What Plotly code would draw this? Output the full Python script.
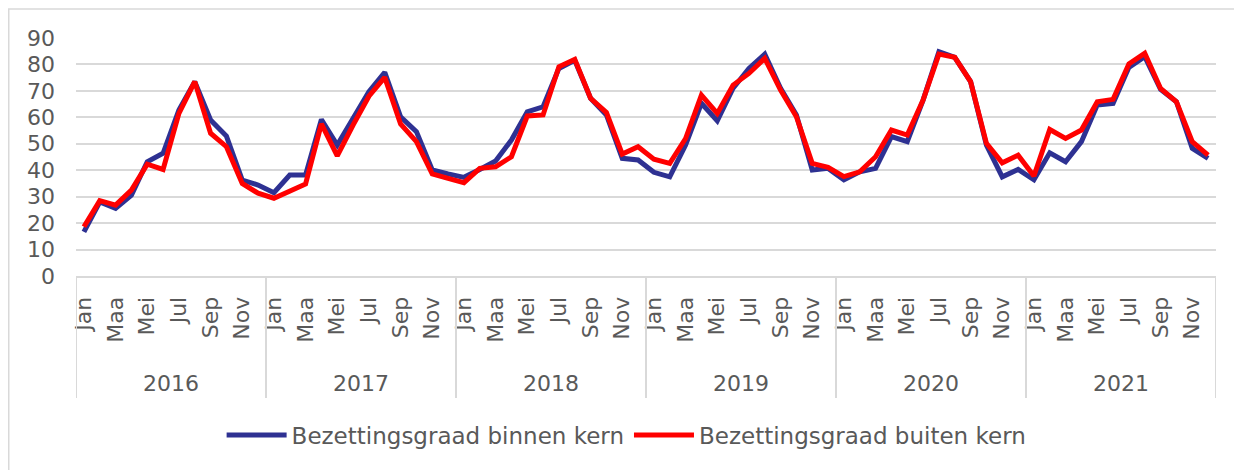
import plotly.graph_objects as go

# ── Data ──────────────────────────────────────────────────────────────────────

years = ["2016", "2017", "2018", "2019", "2020", "2021"]
months = ["Jan", "Feb", "Maa", "Apr", "Mei", "Jun",
          "Jul", "Aug", "Sep", "Okt", "Nov", "Dec"]

binnen_kern = [
    16.7, 28.0, 25.6, 30.6, 43.2, 46.4, 62.8, 73.5, 59.0, 52.9, 36.3, 34.4,
    31.5, 38.2, 38.2, 59.2, 49.5, 59.6, 69.7, 77.0, 60.2, 54.6, 40.1, 38.6,
    37.3, 40.3, 43.5, 51.4, 62.1, 64.0, 78.5, 81.6, 67.2, 60.9, 44.5, 43.9,
    39.2, 37.5, 49.5, 65.3, 58.7, 71.0, 78.5, 83.9, 71.0, 60.9, 40.1, 40.7,
    36.4, 39.4, 40.7, 52.7, 50.8, 66.5, 84.8, 82.7, 73.5, 49.5, 37.5, 40.3,
    36.4, 46.6, 43.2, 50.8, 64.7, 65.3, 78.9, 82.9, 70.6, 65.9, 48.3, 44.5,
]
buiten_kern = [
    18.6, 28.5, 26.8, 32.5, 42.3, 40.3, 61.5, 73.5, 54.0, 48.9, 35.0, 31.3,
    29.4, 31.9, 34.8, 57.5, 45.4, 57.1, 68.0, 75.1, 57.5, 50.8, 38.6, 36.9,
    35.3, 40.7, 41.3, 45.1, 60.5, 60.9, 79.1, 81.9, 67.2, 61.8, 46.1, 48.9,
    44.2, 42.6, 52.0, 68.4, 61.5, 72.2, 76.6, 82.3, 70.3, 60.2, 42.6, 41.1,
    37.6, 39.4, 45.1, 55.2, 53.3, 66.5, 83.9, 82.7, 73.5, 50.2, 42.8, 45.7,
    37.8, 55.4, 52.0, 55.2, 65.9, 66.8, 80.2, 84.2, 70.9, 65.9, 50.8, 45.7,
]

# ── Styling ───────────────────────────────────────────────────────────────────

BLUE = "#2E3192"
RED = "#FF0000"
GRID = "#D9D9D9"
TEXT = "#595959"
FONT = dict(family="DejaVu Sans, sans-serif", size=22, color=TEXT)

n = len(years) * len(months)
idx = list(range(n))
tick_vals = [i for i in idx if i % 2 == 0]
tick_text = [months[i % 12] for i in tick_vals]

fig = go.Figure()
fig.add_trace(go.Scatter(
    x=idx, y=binnen_kern, mode="lines",
    name="Bezettingsgraad binnen kern",
    line=dict(color=BLUE, width=5),
))
fig.add_trace(go.Scatter(
    x=idx, y=buiten_kern, mode="lines",
    name="Bezettingsgraad buiten kern",
    line=dict(color=RED, width=5),
))

# year labels and dividers of the two-level category axis
y_bottom = -0.513
for k, yr in enumerate(years):
    fig.add_annotation(
        x=k * 12 + 5.5, y=-0.45, xref="x", yref="paper",
        text=yr, showarrow=False, font=FONT, yanchor="middle",
    )
for k in range(len(years) + 1):
    fig.add_shape(
        type="line", xref="x", yref="paper",
        x0=k * 12 - 0.5, x1=k * 12 - 0.5, y0=0, y1=y_bottom,
        line=dict(color=GRID, width=2),
    )

# outer chart border
fig.add_shape(
    type="rect", xref="paper", yref="paper",
    x0=-0.059, x1=1.2, y0=-1.2, y1=1.122,
    line=dict(color=GRID, width=1.5), layer="below",
)

# page body has an 8px margin, so the figure is a bit smaller than the window
fig.update_layout(
    width=1234, height=462,
    paper_bgcolor="white", plot_bgcolor="white",
    font=FONT,
    margin=dict(l=68, r=26, t=30, b=194),
    showlegend=True,
    legend=dict(
        orientation="h", x=0.483, xanchor="center", y=-0.668, yanchor="middle",
        font=dict(family="DejaVu Sans, sans-serif", size=23, color=TEXT),
        itemwidth=60, tracegroupgap=0,
    ),
    xaxis=dict(
        range=[-0.5, n - 0.5], tickmode="array",
        tickvals=tick_vals, ticktext=tick_text, tickangle=-90,
        showgrid=False, zeroline=False,
        showline=True, linecolor=GRID, linewidth=2,
        ticks="", ticklabelstandoff=10,
    ),
    yaxis=dict(
        range=[0, 90], dtick=10, showgrid=True, gridcolor=GRID, gridwidth=1.5,
        zeroline=False, ticks="", ticklabelstandoff=20,
    ),
)

fig.write_html("out.html")
